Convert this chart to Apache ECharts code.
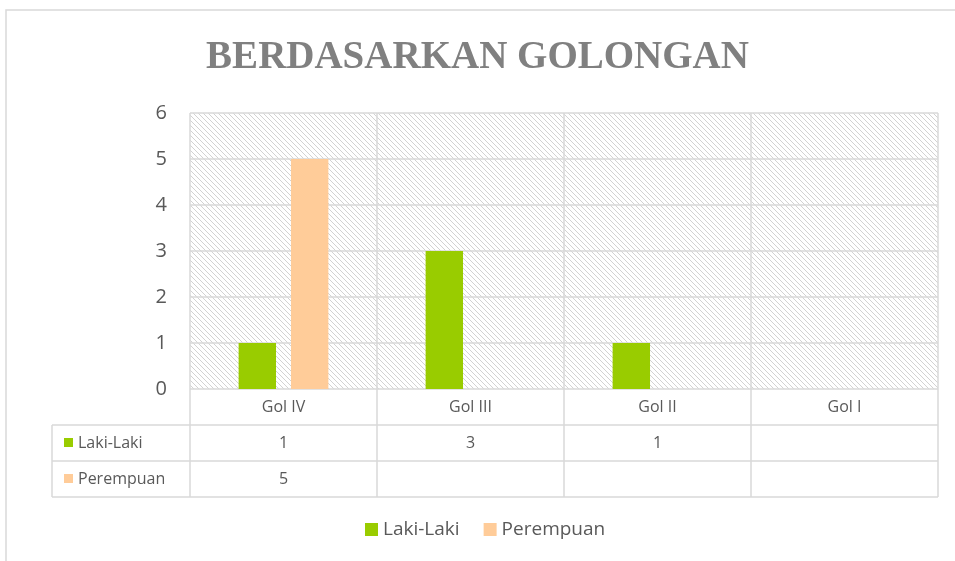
<!DOCTYPE html>
<html>
<head>
<meta charset="utf-8">
<script src="https://cdn.jsdelivr.net/npm/echarts@6/dist/echarts.min.js"></script>
<style>
html, body { margin: 0; padding: 0; background: #fff; }
#chart { width: 955px; height: 561px; }
</style>
</head>
<body>
<div id="chart"></div>
<script>
var categories = ['Gol IV', 'Gol III', 'Gol II', 'Gol I'];
var seriesNames = ['Laki-Laki', 'Perempuan'];
var lakiLaki = [1, 3, 1, null];
var perempuan = [5, null, null, null];
var yMin = 0, yMax = 6, yStep = 1;
var barColor = ['#99cc00', '#ffcc99']; // hijau, peach

var textColor = '#595959';
var lineColor = '#d9d9d9';
var font = '"Open Sans", sans-serif';

// pola garis miring untuk latar area plot
function hatch() {
    var c = document.createElement('canvas');
    c.width = 5;
    c.height = 5;
    var g = c.getContext('2d');
    g.fillStyle = '#fff';
    g.fillRect(0, 0, 5, 5);
    g.strokeStyle = '#d2d2d2';
    g.lineWidth = 1;
    for (var k = -5; k <= 5; k += 5) {
        g.beginPath();
        g.moveTo(k, 0);
        g.lineTo(k + 5, 5);
        g.stroke();
    }
    return c;
}

var chart = echarts.init(document.getElementById('chart'));

var option = {
    animation: false,
    title: {
        text: 'BERDASARKAN GOLONGAN',
        left: 'center',
        top: 38,
        padding: [0, 0, 0, 12],
        textStyle: {
            fontFamily: '"Liberation Serif", serif',
            fontWeight: 'bold',
            fontSize: 39,
            color: '#808080'
        }
    },
    legend: {
        data: seriesNames,
        left: 360,
        top: 515,
        icon: 'rect',
        itemWidth: 13,
        itemHeight: 13,
        itemGap: 24,
        textStyle: { color: textColor, fontSize: 19, fontFamily: font }
    },
    grid: {
        left: 190,
        right: 17,
        top: 113,
        bottom: 172,
        show: true,
        borderWidth: 0,
        backgroundColor: { image: hatch(), repeat: 'repeat' }
    },
    xAxis: {
        type: 'category',
        data: categories,
        axisLine: { show: false },
        axisTick: { show: false },
        axisLabel: { color: textColor, fontSize: 16, fontFamily: font, margin: 10 },
        splitLine: { show: true, lineStyle: { color: lineColor, width: 1.5 } }
    },
    yAxis: {
        type: 'value',
        min: yMin,
        max: yMax,
        interval: yStep,
        axisLine: { show: false },
        axisTick: { show: false },
        axisLabel: { color: textColor, fontSize: 20, fontFamily: font, margin: 23 },
        splitLine: { show: true, lineStyle: { color: lineColor, width: 1.5 } }
    },
    series: [
        {
            name: seriesNames[0],
            type: 'bar',
            data: lakiLaki,
            barWidth: '20%',
            barGap: '40%',
            itemStyle: { color: barColor[0] }
        },
        {
            name: seriesNames[1],
            type: 'bar',
            data: perempuan,
            barWidth: '20%',
            itemStyle: { color: barColor[1] }
        }
    ]
};
chart.setOption(option);

// tabel data di bawah sumbu x
function buildTable() {
    var rows = [lakiLaki, perempuan];
    var cx = categories.map(function (c, i) {
        return chart.convertToPixel({ xAxisIndex: 0 }, i);
    });
    var colW = cx[1] - cx[0];
    var x0 = cx[0] - colW / 2;
    var x1 = cx[cx.length - 1] + colW / 2;
    var y0 = chart.convertToPixel({ yAxisIndex: 0 }, yMin);
    var rowH = 36;
    var leftX = 52;
    var yEnd = y0 + rowH * (rows.length + 1);
    var els = [];
    var ls = { stroke: lineColor, lineWidth: 1.5 };

    // garis vertikal kolom
    for (var i = 0; i <= categories.length; i++) {
        var x = x0 + colW * i;
        els.push({ type: 'line', shape: { x1: x, y1: y0, x2: x, y2: yEnd }, style: ls });
    }
    els.push({ type: 'line', shape: { x1: leftX, y1: y0 + rowH, x2: leftX, y2: yEnd }, style: ls });
    // garis horizontal
    for (var r = 1; r <= rows.length + 1; r++) {
        var y = y0 + rowH * r;
        els.push({ type: 'line', shape: { x1: leftX, y1: y, x2: x1, y2: y }, style: ls });
    }
    rows.forEach(function (vals, r) {
        var yc = y0 + rowH * (r + 1) + rowH / 2;
        els.push({
            type: 'rect',
            shape: { x: leftX + 12, y: yc - 5, width: 9, height: 9 },
            style: { fill: barColor[r] }
        });
        els.push({
            type: 'text',
            x: leftX + 26, y: yc,
            style: {
                text: seriesNames[r], fill: textColor, fontSize: 16, fontFamily: font,
                verticalAlign: 'middle', align: 'left'
            }
        });
        vals.forEach(function (v, i) {
            if (v == null) return;
            els.push({
                type: 'text',
                x: cx[i], y: yc,
                style: {
                    text: String(v), fill: textColor, fontSize: 16, fontFamily: font,
                    verticalAlign: 'middle', align: 'center'
                }
            });
        });
    });
    // bingkai luar
    els.push({
        type: 'rect',
        shape: { x: 6, y: 10, width: 1000, height: 600 },
        style: { fill: 'none', stroke: lineColor, lineWidth: 1.5 },
        silent: true
    });
    chart.setOption({ graphic: els });
}
buildTable();
</script>
</body>
</html>
